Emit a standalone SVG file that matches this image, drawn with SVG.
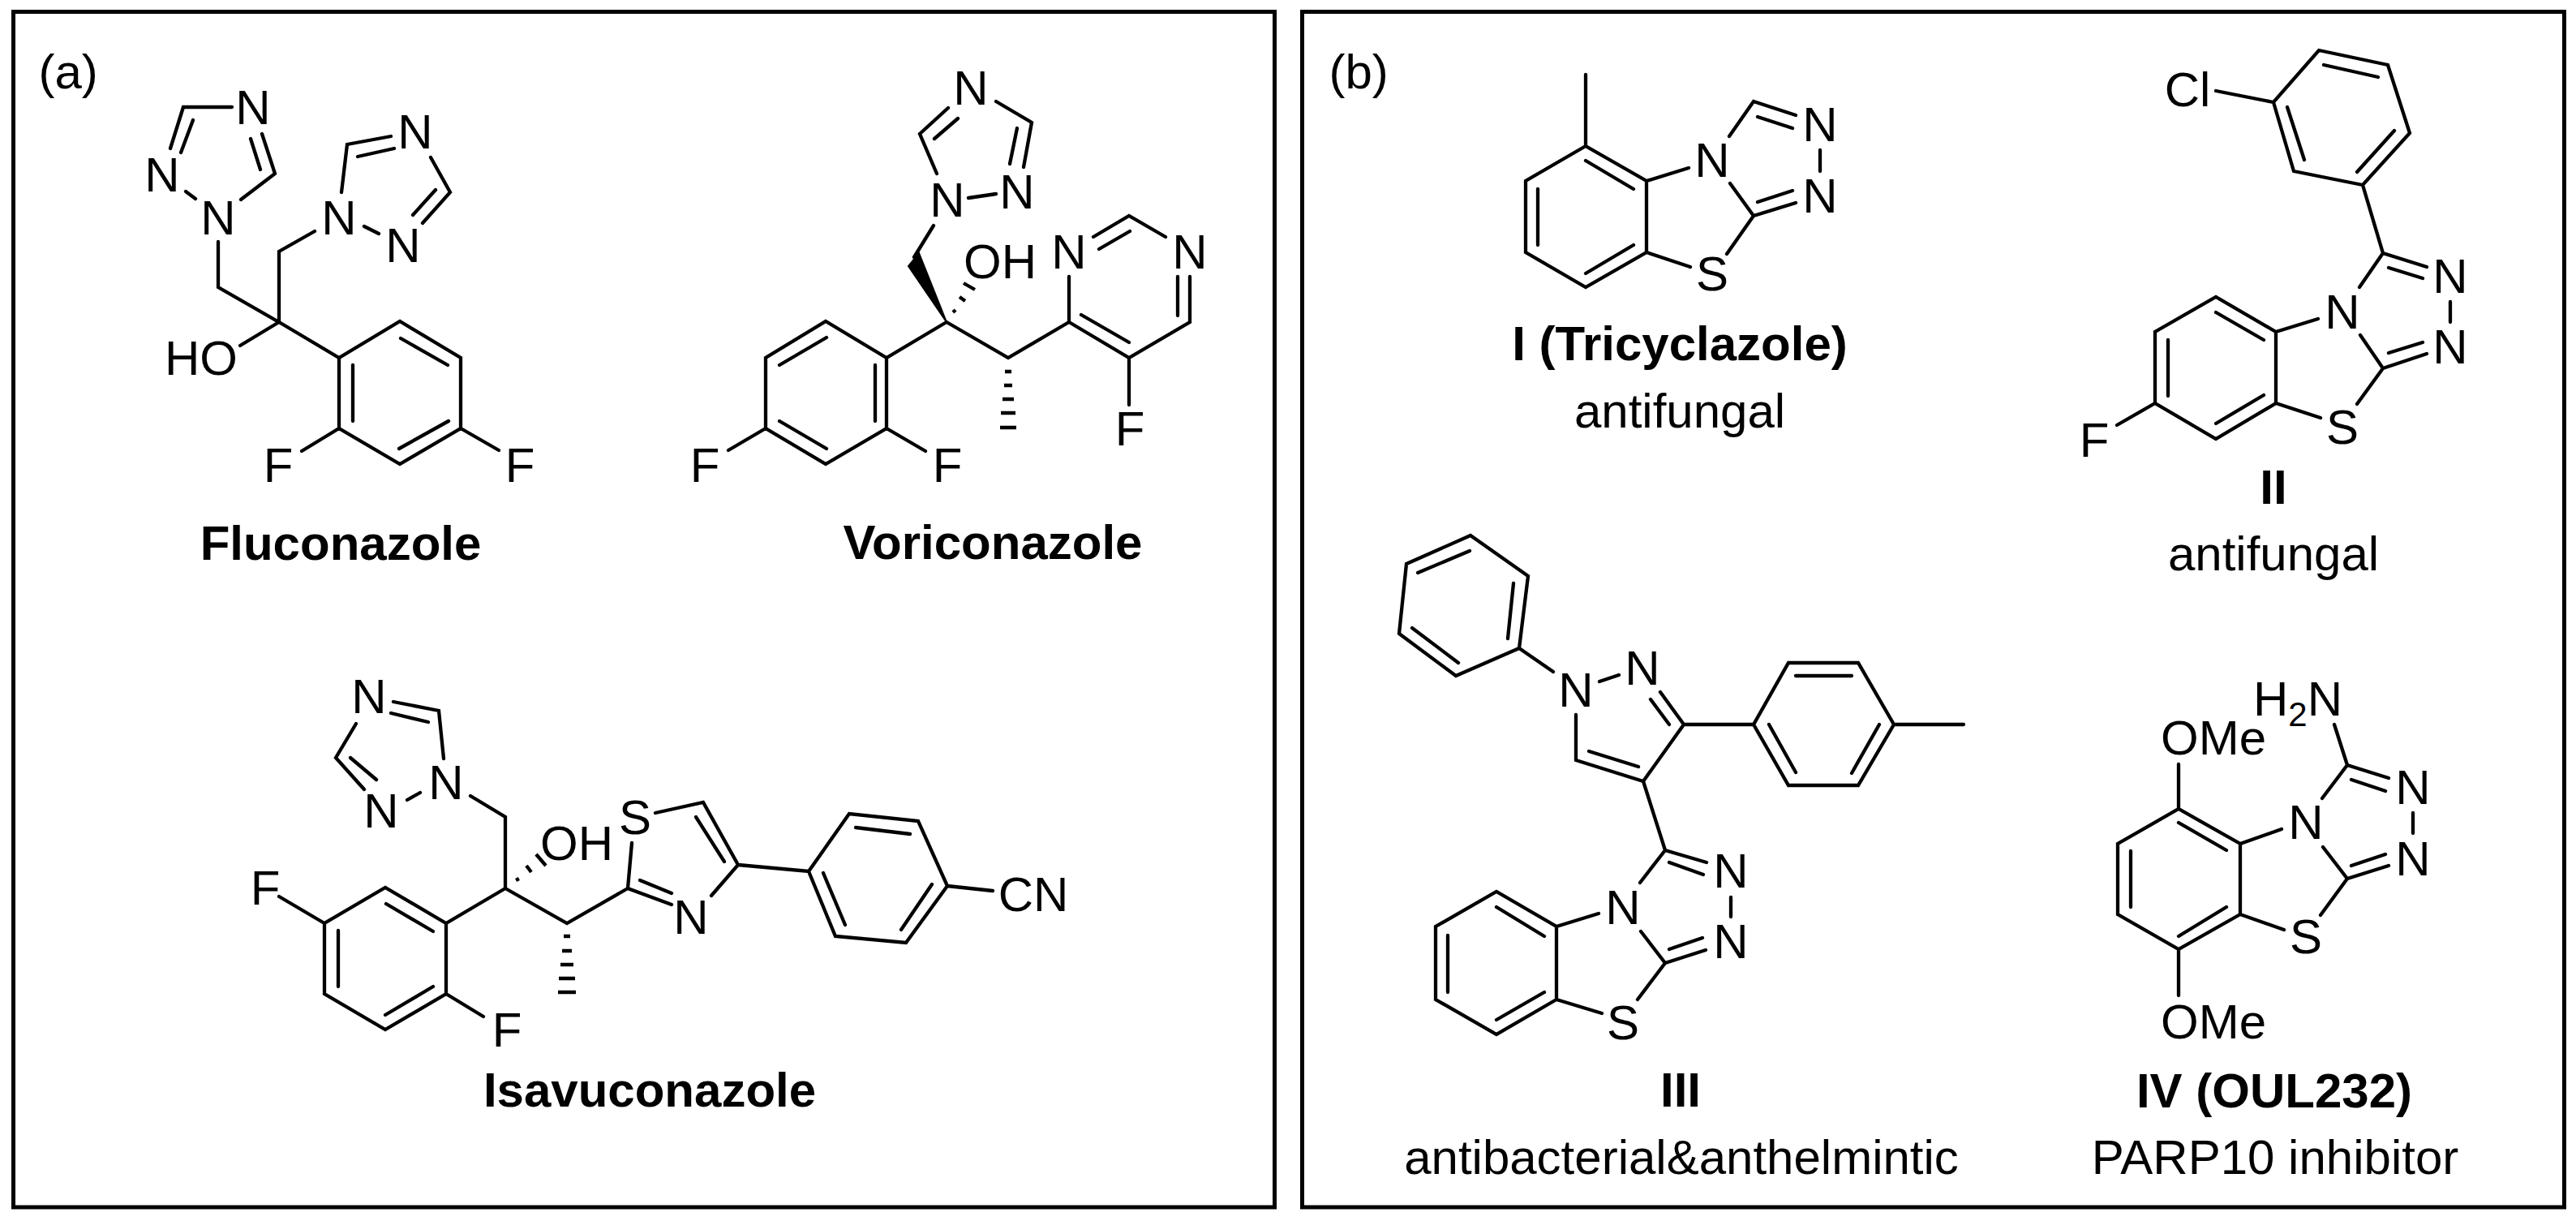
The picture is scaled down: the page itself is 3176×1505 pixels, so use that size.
<svg xmlns="http://www.w3.org/2000/svg" width="3176" height="1505" viewBox="0 0 3176 1505">
<style>
text{font-family:"Liberation Sans",Arial,sans-serif;font-size:60px;fill:#000;text-anchor:middle}
.b{font-weight:700}
.s{text-anchor:start}
.bond{fill:none;stroke:#000;stroke-width:4.3;stroke-linecap:round;stroke-linejoin:miter}
.hash{fill:none;stroke:#000;stroke-width:4.3}
.frame{fill:none;stroke:#000;stroke-width:5}
</style>
<rect width="3176" height="1505" fill="#fff"/>
<g id="panel-a-frame"><rect class="frame" x="16.5" y="14.5" width="1555" height="1473.5"/><text class="s" x="47.5" y="109">(a)</text></g>
<g id="panel-b-frame"><rect class="frame" x="1605.5" y="14.5" width="1556" height="1473.5"/><text class="s" x="1638.5" y="109">(b)</text></g>

<g id="fluconazole">
<path class="bond" d="M286 132L226 132L210 183M238 148L223 188M323 165L339 214L297 246M309 171L321 209M229 236L241 245M269 298L269 354L344 397L344 310L388 285M421 237L428 178L482 168M441 193L486 183M531 194L555 237L521 275M537 234L509 265M449 279L467 288M344 397L296 426M344 397L418 441L493 396L568 441L568 528L493 572L418 528L418 441M494 417L552 450M492 553L553 519M435 450L435 519M418 528L372 556M568 528L615 555"/>
<text x="269" y="289">N</text><text x="200" y="236">N</text><text x="312" y="153">N</text><text x="418" y="289">N</text><text x="512" y="183">N</text><text x="497" y="323">N</text>
<text x="248" y="462">HO</text><text x="343" y="594">F</text><text x="641" y="594">F</text>
<text class="b" x="420" y="690">Fluconazole</text>
</g>

<g id="voriconazole">
<path class="bond" d="M1228 125L1272 151L1262 206M1254 158L1245 202M1194 244L1228 239M1155 214L1134 165L1169 133M1152 171L1181 146M1151 278L1127 317M1167 397L1093 441L1018 396L944 441L944 528L1018 572L1093 528L1093 441M1167 397L1243 441L1318 397M1019 416L961 450M961 519L1019 553M1079 450L1079 519M944 528L898 555M1093 528L1141 556M1318 397L1318 341M1348 292L1392 266L1437 292M1355 307L1393 285M1467 341L1467 397L1392 441L1318 397M1452 341L1452 389M1392 422L1333 388M1392 441L1392 499"/>
<polygon points="1167,397 1120,328 1133,312" fill="#000" stroke="#000" stroke-width="2"/>
<path class="hash" d="M1175 382L1178 385M1183 366L1190 371M1188 349L1202 357M1239 458L1247 458M1238 475L1248 475M1236 492L1250 492M1234 509L1252 509M1233 527L1253 527"/>
<text x="1197" y="129">N</text><text x="1254" y="257">N</text><text x="1168" y="267">N</text><text x="1233" y="343">OH</text>
<text x="1318" y="331">N</text><text x="1467" y="331">N</text><text x="1393" y="549">F</text><text x="869" y="594">F</text><text x="1168" y="594">F</text>
<text class="b" x="1224" y="689">Voriconazole</text>
</g>

<g id="isavuconazole">
<path class="bond" d="M485 865L541 876L547 935M482 879L528 890M439 892L414 934L449 973M432 934L464 961M502 986L518 977M580 981L623 1007L623 1095M623 1095L550 1138L475 1094L400 1138L400 1225L475 1269L550 1225L550 1138M623 1095L699 1138L774 1095M476 1114L534 1148M417 1147L417 1216M534 1216L475 1251M344 1105L400 1138M550 1225L596 1253M808 1002L867 989L910 1066L877 1104M858 1007L893 1062M828 1115L774 1095L779 1039M789 1085L828 1101M910 1066L997 1074L1047 1003L1132 1012L1168 1092L1117 1162L1030 1154L997 1074M1055 1020L1122 1028M1149 1090L1111 1146M1015 1076L1042 1140M1168 1092L1224 1098"/>
<path class="hash" d="M637 1082L639 1086M649 1067L655 1075M661 1053L673 1067M695 1154L703 1154M693 1172L705 1172M691 1189L707 1189M689 1206L709 1206M688 1223L710 1223"/>
<text x="455" y="879">N</text><text x="550" y="985">N</text><text x="470" y="1020">N</text><text x="711" y="1060">OH</text><text x="783" y="1028">S</text><text x="852" y="1151">N</text><text x="327" y="1115">F</text><text x="625" y="1290">F</text><text x="1274" y="1123">CN</text>
<text class="b" x="801" y="1364">Isavuconazole</text>
</g>

<g id="compound-I">
<path class="bond" d="M1955 92L1955 180L2030 223L2030 311L1955 354L1881 311L1881 223L1955 180M1955 198L2014 233M2014 302L1955 337M1896 233L1896 302M2030 223L2082 207M2132 168L2162 125L2214 142M2167 144L2210 158M2244 185L2244 211M2214 250L2162 266L2133 226M2167 249L2210 235M2162 266L2129 313M2030 311L2084 329"/>
<text x="2111" y="218">N</text><text x="2244" y="174">N</text><text x="2244" y="262">N</text><text x="2111" y="358">S</text>
<text class="b" x="2071" y="444">I (Tricyclazole)</text><text x="2071" y="527">antifungal</text>
</g>

<g id="compound-II">
<path class="bond" d="M2732 112L2803 126L2859 62L2944 80L2971 164L2913 228L2828 211L2803 126M2865 80L2932 95M2952 161L2906 212M2820 132L2841 197M2913 228L2938 312L2992 329M2945 330L2987 343M3021 372L3021 397M2909 354L2938 312M2992 436L2938 454L2910 413M2945 435L2987 422M2938 454L2906 498M2806 497L2861 515M2858 393L2806 409L2732 366L2657 409L2657 497L2732 541L2806 497L2806 409M2732 385L2791 419M2791 487L2732 522M2673 419L2673 488M2657 497L2610 524"/>
<text x="2697" y="131">Cl</text><text x="3021" y="361">N</text><text x="3021" y="448">N</text><text x="2888" y="405">N</text><text x="2888" y="547">S</text><text x="2582" y="563">F</text>
<text class="b" x="2803" y="621">II</text><text x="2803" y="703">antifungal</text>
</g>

<g id="compound-III">
<path class="bond" d="M1813 660L1884 710L1873 799L1795 833L1725 781L1734 695L1813 660M1866 719L1859 787M1741 774L1798 817M1812 679L1748 706M1873 799L1915 828M1972 840L1996 832M2047 853L2076 893L2026 963L1943 937L1943 881M2035 862L2058 893M1959 926L2020 945M2076 893L2162 893L2205 817L2291 817L2335 893L2291 968L2205 968L2162 893M2214 833L2283 833M2181 893L2214 952M2317 893L2283 953M2335 893L2421 893M2026 963L2053 1048L2104 1063M2058 1063L2100 1078M2134 1106L2134 1130M2022 1088L2053 1048M2103 1171L2053 1187L2023 1148M2058 1170L2099 1156M2053 1187L2019 1232M1975 1249L1919 1232L1845 1275L1770 1232L1770 1142L1845 1099L1919 1142L1919 1232M1919 1142L1971 1126M1845 1118L1904 1154M1904 1223L1845 1257M1785 1153L1785 1223"/>
<text x="1943" y="871">N</text><text x="2025" y="844">N</text><text x="2134" y="1094">N</text><text x="2134" y="1181">N</text><text x="2001" y="1139">N</text><text x="2001" y="1281">S</text>
<text class="b" x="2072" y="1364">III</text><text x="2073" y="1447">antibacterial&amp;anthelmintic</text>
</g>

<g id="compound-IV">
<path class="bond" d="M2878 893L2894 943L2945 959M2899 961L2941 975M2975 1002L2975 1027M2863 984L2894 943M2945 1067L2894 1083L2864 1044M2899 1067L2941 1053M2894 1083L2861 1128M2816 1146L2762 1127L2686 1170L2611 1127L2611 1040L2686 997L2762 1040L2762 1127M2762 1040L2813 1022M2686 1014L2745 1048M2745 1118L2686 1154M2627 1049L2627 1118M2686 942L2686 997M2686 1170L2686 1227"/>
<text class="s" x="2778" y="882">H<tspan font-size="42" dy="13">2</tspan><tspan dy="-13">N</tspan></text>
<text class="s" x="2664" y="930">OMe</text><text class="s" x="2664" y="1280">OMe</text>
<text x="2975" y="991">N</text><text x="2975" y="1079">N</text><text x="2843" y="1034">N</text><text x="2843" y="1175">S</text>
<text class="b" x="2804" y="1365">IV (OUL232)</text><text x="2805" y="1447">PARP10 inhibitor</text>
</g>
</svg>
